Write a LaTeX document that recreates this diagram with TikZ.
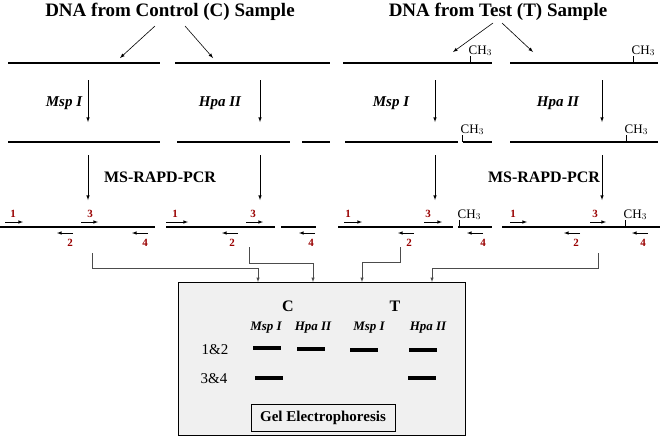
\documentclass[tikz,border=0pt]{standalone}
\usepackage{fontspec}
\setmainfont{Liberation Serif}
\begin{document}
\begin{tikzpicture}[x=1pt,y=-1pt,
  dna/.style={line width=2pt},
  arr/.style={-latex, line width=0.6pt},
  conn/.style={-latex, line width=0.5pt, draw=black!70},
  pr/.style={-latex, line width=0.6pt},
  plab/.style={text=red!60!black, font=\bfseries\fontsize{11}{11}\selectfont, inner sep=0pt},
  enz/.style={font=\bfseries\itshape\fontsize{15}{15}\selectfont, inner sep=0pt},
  genz/.style={font=\bfseries\itshape\fontsize{13}{13}\selectfont, inner sep=0pt},
  ttl/.style={font=\bfseries\fontsize{19}{19}\selectfont, inner sep=0pt},
  pcr/.style={font=\bfseries\fontsize{16}{16}\selectfont, inner sep=0pt},
  ch/.style={font=\fontsize{13}{13}\selectfont, inner sep=0pt, anchor=south west},
  band/.style={line width=4pt}]
\useasboundingbox (0,0) rectangle (660,437);
% titles
\node[ttl] (tc) at (170,12) {DNA from Control (C) Sample};
\node[ttl] (tt) at (498,12) {DNA from Test (T) Sample};
\coordinate (tca) at (155,26); \coordinate (tcb) at (185,26);
\coordinate (tta) at (493,23); \coordinate (ttb) at (502,23);
\coordinate (c1) at (120,58); \coordinate (c2) at (213,58);
\coordinate (t1) at (453,52); \coordinate (t2) at (533,52);
\draw[arr] (tca) -- (c1); \draw[arr] (tcb) -- (c2);
\draw[arr] (tta) -- (t1); \draw[arr] (ttb) -- (t2);
% row 1
\draw[dna] (8,63) -- (160,63);
\draw[dna] (175,63) -- (330,63);
\draw[dna] (343,63) -- (492,63);
\draw[dna] (510,63) -- (658,63);
\draw (470,63) -- (470,56) node[ch,xshift=-1.5pt] {CH$_3$};
\draw (633,63) -- (633,56) node[ch,xshift=-1.5pt] {CH$_3$};
% arrows 1
\foreach \x in {88,260,435,602} {\coordinate (a\x) at (\x,80); \coordinate (b\x) at (\x,122); \draw[arr] (a\x) -- (b\x);}
\node[enz] (e1) at (64,103) {Msp I};
\node[enz] (e2) at (220,103) {Hpa II};
\node[enz] (e3) at (391,103) {Msp I};
\node[enz] (e4) at (558,103) {Hpa II};
% row 2
\draw[dna] (8,142) -- (160,142);
\draw[dna] (177,142) -- (290,142);
\draw[dna] (302,142) -- (330,142);
\draw[dna] (345,142) -- (458,142);
\draw[dna] (463,142) -- (492,142);
\draw[dna] (510,142) -- (658,142);
\draw (462,142) -- (462,135) node[ch,xshift=-1.5pt] {CH$_3$};
\draw (626,142) -- (626,135) node[ch,xshift=-1.5pt] {CH$_3$};
% arrows 2
\foreach \x in {88,260,435,602} {\coordinate (d\x) at (\x,155); \coordinate (f\x) at (\x,200); \draw[arr] (d\x) -- (f\x);}
\node[pcr] (m1) at (160,177) {MS-RAPD-PCR};
\node[pcr] (m2) at (544,177) {MS-RAPD-PCR};
% row 3
\draw[dna] (0,227) -- (155,227);
\draw[dna] (166,227) -- (275,227);
\draw[dna] (281,227) -- (316,227);
\draw[dna] (338,227) -- (453,227);
\draw[dna] (458,227) -- (492,227);
\draw[dna] (502,227) -- (660,227);
\draw (459,227) -- (459,220) node[ch,xshift=-1.5pt] {CH$_3$};
\draw (625,227) -- (625,220) node[ch,xshift=-1.5pt] {CH$_3$};
% primers: forward
\foreach \a/\b/\l/\n in {5/23/13/1,81/98/90/3,166/188/175/1,246/263/253/3,344/362/348/1,424/442/428/3,510/527/513/1,590/606/595/3}
  {\draw[pr] (\a,222) -- (\b,222); \node[plab] at (\l,214) {\n};}
\foreach \a/\b/\l/\n in {73/57/70/2,148/132/145/4,238/222/232/2,315/299/311/4,414/398/409/2,483/467/483/4,580/564/576/2,648/632/643/4}
  {\draw[pr] (\a,233) -- (\b,233); \node[plab] at (\l,243) {\n};}
% box
\node[draw, fill=black!6, minimum width=287pt, minimum height=153pt, anchor=north west, inner sep=0pt] (box) at (178,282) {};
% connectors
\coordinate (s1) at (92,253); \coordinate (s2) at (249,247); \coordinate (s3) at (400,247); \coordinate (s4) at (598,253);
\draw[conn] (s1) |- (258,268) -- (box.north west -| 258,0);
\draw[conn] (s2) |- (313,263) -- (box.north west -| 313,0);
\draw[conn] (s3) |- (362,262) -- (box.north west -| 362,0);
\draw[conn] (s4) |- (432,268) -- (box.north west -| 432,0);
% gel contents
\node[ttl,font=\bfseries\fontsize{16}{16}\selectfont] (gc) at (288,306) {C};
\node[ttl,font=\bfseries\fontsize{16}{16}\selectfont] (gt) at (395,306) {T};
\node[genz] (g1) at (266,328) {Msp I};
\node[genz] (g2) at (313,328) {Hpa II};
\node[genz] (g3) at (369,328) {Msp I};
\node[genz] (g4) at (428,328) {Hpa II};
\node[inner sep=0pt,font=\fontsize{15}{15}\selectfont] (r1) at (215,350) {1\&2};
\node[inner sep=0pt,font=\fontsize{15}{15}\selectfont] (r2) at (214,379) {3\&4};
\draw[band] (253,348) -- (281,348);
\draw[band] (297,349) -- (325,349);
\draw[band] (350,350) -- (378,350);
\draw[band] (409,350) -- (437,350);
\draw[band] (255,378) -- (283,378);
\draw[band] (408,378) -- (436,378);
\node[draw, minimum width=144pt, minimum height=27pt, inner sep=0pt, font=\bfseries\fontsize{15}{15}\selectfont] (ge) at (323,417.5) {Gel Electrophoresis};
\end{tikzpicture}
\end{document}
